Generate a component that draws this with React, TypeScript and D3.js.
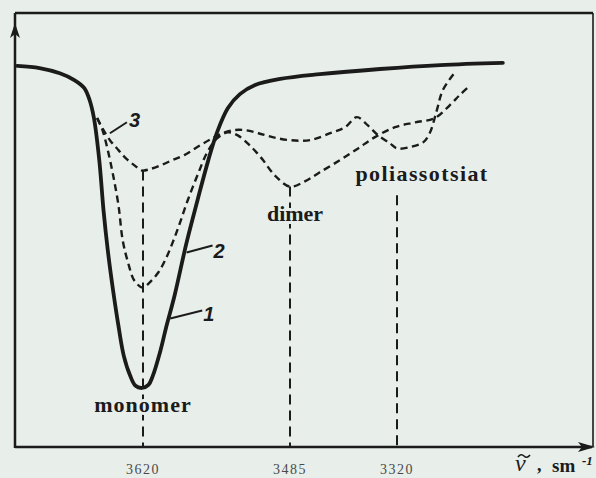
import React from "react";
import * as d3 from "d3";

const W = 596;
const H = 478;

// Band positions on the wavenumber axis, cm^-1
const bandWn = [3620, 3485, 3320];
const bandTickLabels = ["3620", "3485", "3320"];
const bandNames = ["monomer", "dimer", "poliassotsiat"];
// transmission level where each band's drop line starts
const bandTopT = [63.7, 60.0, 58.0];

// Spectrum 1 (solid)
const curve1Wn = [3738, 3717, 3698, 3684, 3675, 3670, 3666, 3661, 3657, 3653, 3648, 3643, 3638, 3632, 3627, 3621, 3615, 3611, 3604, 3599, 3591, 3580, 3570, 3560, 3552, 3542, 3531, 3517, 3494, 3439, 3346, 3254, 3158];
const curve1T = [87.8, 87.3, 86.1, 84.5, 82.7, 79.9, 75.8, 66.1, 54.5, 45.3, 36.0, 27.9, 21.0, 16.4, 14.1, 13.6, 14.3, 16.4, 22.2, 27.3, 34.9, 47.1, 56.8, 66.1, 72.5, 78.1, 81.3, 83.4, 84.8, 85.9, 87.1, 88.0, 88.5];

// Spectrum 2 (dashed)
const curve2Wn = [3663, 3658, 3653, 3648, 3643, 3639, 3634, 3628, 3620, 3614, 3606, 3599, 3592, 3586, 3579, 3570, 3561, 3552, 3542, 3533, 3522, 3511, 3499, 3485, 3462, 3439, 3408, 3380, 3354, 3323, 3292, 3262, 3239, 3224, 3211];
const curve2T = [75.8, 73.0, 68.4, 62.6, 55.7, 47.6, 42.5, 38.3, 36.7, 37.9, 40.2, 43.4, 47.6, 51.7, 56.8, 62.6, 67.9, 71.1, 72.5, 71.8, 69.5, 66.5, 62.6, 60.0, 61.2, 63.3, 66.1, 68.8, 71.4, 73.7, 74.8, 75.8, 78.8, 81.1, 82.9];

// Spectrum 3 (dashed)
const curve3Wn = [3663, 3658, 3651, 3643, 3636, 3628, 3621, 3614, 3604, 3593, 3581, 3569, 3558, 3547, 3537, 3526, 3514, 3501, 3485, 3454, 3423, 3400, 3382, 3365, 3349, 3331, 3320, 3300, 3280, 3270, 3259, 3250, 3231];
const curve3T = [75.8, 73.4, 70.7, 68.4, 66.5, 64.9, 63.7, 64.0, 64.9, 66.1, 67.4, 69.3, 70.9, 72.3, 73.0, 73.0, 72.3, 71.4, 70.7, 70.7, 72.3, 73.7, 76.0, 74.1, 71.8, 70.0, 68.8, 69.1, 70.2, 72.3, 77.6, 82.2, 86.4];

// Curve numbers and the point on each curve their leader starts from
const curveNumbers = ["1", "2", "3"];
const leaderWn = [3595, 3580, 3651];
const leaderT = [29.6, 44.8, 72.3];

const BG = "#e8eeea";
const INK = "#1b1b1b";
const SERIF = "'Liberation Serif', 'Times New Roman', serif";

export default function App() {
  // hand-drawn wavenumber axis: piecewise linear between band positions
  const x = d3
    .scaleLinear()
    .domain([3740, 3620, 3485, 3320, 3020])
    .range([15, 143, 290, 397, 593]);
  const y = d3.scaleLinear().domain([0, 100]).range([447, 13]);

  const line = d3
    .line<[number, number]>()
    .x((d) => x(d[0]))
    .y((d) => y(d[1]))
    .curve(d3.curveCatmullRom.alpha(0.5));

  const zip = (a: number[], b: number[]) => a.map((v, i) => [v, b[i]] as [number, number]);

  const c1 = line(zip(curve1Wn, curve1T)) || "";
  const c2 = line(zip(curve2Wn, curve2T)) || "";
  const c3 = line(zip(curve3Wn, curve3T)) || "";

  const x0 = x(3740);
  const y0 = y(0);
  const yTop = y(100);
  const xRight = x(3020);

  // label placement for the band names (pixel offsets from the band line)
  const nameLayout = [
    { dx: 0, baseline: 412, spacing: 1 },
    { dx: 5, baseline: 221, spacing: 0 },
    { dx: 25, baseline: 181, spacing: 1.4 },
  ];
  const leaderLayout = [
    { dx: 32, dy: -8, tx: 33, ty: 2 },
    { dx: 26, dy: -7, tx: 27, ty: 5 },
    { dx: 17, dy: -11, tx: 19, ty: -6 },
  ];

  return (
    <svg
      width={W}
      height={H}
      style={{ position: "absolute", left: 0, top: 0, background: BG }}
    >
      <rect x={0} y={0} width={W} height={H} fill={BG} />

      {/* frame */}
      <line x1={x0} y1={yTop} x2={xRight} y2={yTop} stroke={INK} strokeWidth={2.5} />
      <line x1={xRight} y1={yTop} x2={xRight} y2={y0} stroke={INK} strokeWidth={1.6} />
      <line x1={x0} y1={y0 + 1} x2={x0} y2={yTop} stroke={INK} strokeWidth={2.5} />
      <line x1={x0} y1={y0} x2={W - 4} y2={y0} stroke={INK} strokeWidth={2.5} />
      {/* axis arrows */}
      <path d={`M${x0},${yTop + 10} L${x0 - 5},${yTop + 25} L${x0},${yTop + 21} L${x0 + 5},${yTop + 25} Z`} fill={INK} />
      <path d={`M${W - 1},${y0} L${W - 18},${y0 - 5} L${W - 14},${y0} L${W - 18},${y0 + 5} Z`} fill={INK} />

      {/* band drop lines */}
      {bandWn.map((wn, i) => (
        <line
          key={"drop" + i}
          x1={x(wn)}
          x2={x(wn)}
          y1={y(bandTopT[i])}
          y2={y0}
          stroke={INK}
          strokeWidth={2}
          strokeDasharray="10 6"
        />
      ))}

      {/* spectra */}
      <path d={c3} fill="none" stroke={INK} strokeWidth={2.4} strokeDasharray="7 4.5" />
      <path d={c2} fill="none" stroke={INK} strokeWidth={2.4} strokeDasharray="7 4.5" />
      <path d={c1} fill="none" stroke={INK} strokeWidth={3.8} strokeLinejoin="round" strokeLinecap="round" />

      {/* curve numbers */}
      {curveNumbers.map((n, i) => {
        const px = x(leaderWn[i]);
        const py = y(leaderT[i]);
        const l = leaderLayout[i];
        return (
          <g key={"num" + i}>
            <line x1={px} y1={py} x2={px + l.dx} y2={py + l.dy} stroke={INK} strokeWidth={2} />
            <text
              x={px + l.tx}
              y={py + l.ty}
              fontFamily="'Liberation Sans', Arial, sans-serif"
              fontStyle="italic"
              fontWeight="bold"
              fontSize={20}
              fill={INK}
            >
              {n}
            </text>
          </g>
        );
      })}

      {/* band names */}
      {bandNames.map((name, i) => (
        <text
          key={"name" + i}
          x={x(bandWn[i]) + nameLayout[i].dx}
          y={nameLayout[i].baseline}
          textAnchor="middle"
          fontFamily={SERIF}
          fontWeight="bold"
          fontSize={22}
          letterSpacing={nameLayout[i].spacing}
          fill={INK}
          stroke={BG}
          strokeWidth={6}
          paintOrder="stroke"
        >
          {name}
        </text>
      ))}

      {/* tick labels */}
      {bandWn.map((wn, i) => (
        <text
          key={"tick" + i}
          x={x(wn)}
          y={474}
          textAnchor="middle"
          fontFamily={SERIF}
          fontSize={14}
          letterSpacing={1.5}
          fill="#4a4a4a"
        >
          {bandTickLabels[i]}
        </text>
      ))}

      {/* axis title: wavenumber, sm^-1 */}
      <text x={515} y={471} fontFamily={SERIF} fontSize={24} fontStyle="italic" fill={INK}>ν</text>
      <path d="M518,457 q3,-4 6,-1 t6,-1" fill="none" stroke={INK} strokeWidth={1.6} />
      <text x={537} y={471} fontFamily={SERIF} fontSize={18} fontWeight="bold" fill={INK}>,</text>
      <text x={552} y={472} fontFamily={SERIF} fontSize={19} fontWeight="bold" fill={INK}>sm</text>
      <text x={582} y={465} fontFamily={SERIF} fontSize={13} fontStyle="italic" fontWeight="bold" fill={INK}>-1</text>
    </svg>
  );
}
